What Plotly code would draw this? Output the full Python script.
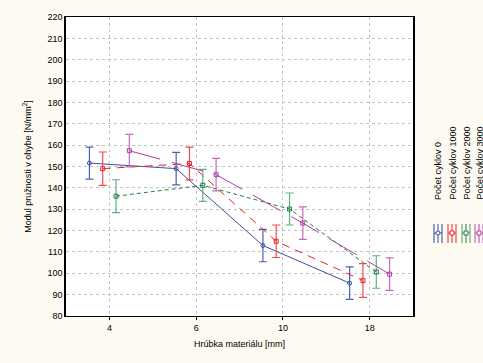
import plotly.graph_objects as go

categories = ["4", "6", "10", "18"]
series_names = ["Počet cyklov 0", "Počet cyklov 1000", "Počet cyklov 2000", "Počet cyklov 3000"]
mean_0 = [151.6, 149.0, 113.0, 95.4]
err_0 = [7.5, 7.6, 7.6, 7.6]
mean_1000 = [149.0, 151.4, 115.0, 96.6]
err_1000 = [7.8, 7.7, 7.6, 7.9]
mean_2000 = [136.1, 141.2, 130.1, 100.6]
err_2000 = [7.7, 7.5, 7.5, 7.6]
mean_3000 = [157.4, 146.2, 123.5, 99.6]
err_3000 = [7.6, 7.6, 7.6, 7.6]
y_ticks = list(range(80, 221, 10))

means = [mean_0, mean_1000, mean_2000, mean_3000]
errs = [err_0, err_1000, err_2000, err_3000]
line_colors = ["#3c50a0", "#e8202a", "#1f7f45", "#b03ca8"]
err_colors = ["#4a62b4", "#f04a4a", "#62b082", "#c56cbc"]
dashes = ["solid", "8px,6px", "4px,3px", "32px,12px"]
symbols = ["circle-open", "square-open", "square-open", "square-open"]
offsets = [-0.23, -0.077, 0.077, 0.23]

fig = go.Figure()
for i in range(4):
    xs = [k + offsets[i] for k in range(len(categories))]
    fig.add_trace(go.Scatter(
        x=xs, y=means[i], mode="lines+markers", name=series_names[i],
        line=dict(color=line_colors[i], width=1, dash=dashes[i]),
        marker=dict(symbol=symbols[i], size=4, color=line_colors[i], line=dict(width=1)),
        error_y=dict(type="data", array=errs[i], visible=True, color=err_colors[i],
                     thickness=1.2, width=4),
        showlegend=False,
    ))

W, H = 483, 363
L, R, T, B = 66, 413, 17, 316

def px(x):
    return (x - L) / (R - L)

def py(y):
    return (B - y) / (B - T)

shapes = []
annotations = []
centers = [438, 452, 466, 479]
for i, cx in enumerate(centers):
    annotations.append(dict(
        x=px(cx), y=py(201), xref="paper", yref="paper", text=series_names[i],
        textangle=-90, showarrow=False, xanchor="center", yanchor="bottom",
        font=dict(family="Liberation Sans, Arial", size=9, color="#000000"),
        borderpad=0,
    ))
    c = line_colors[i]
    for xx in (cx - 4, cx + 4):
        shapes.append(dict(type="line", xref="paper", yref="paper",
                           x0=px(xx), x1=px(xx), y0=py(224), y1=py(243),
                           line=dict(color=err_colors[i], width=1.2)))
    shapes.append(dict(type="line", xref="paper", yref="paper",
                       x0=px(cx - 4), x1=px(cx + 4), y0=py(233), y1=py(233),
                       line=dict(color=err_colors[i], width=1.2)))
    shapes.append(dict(type="line", xref="paper", yref="paper",
                       x0=px(cx), x1=px(cx), y0=py(224), y1=py(243),
                       line=dict(color=c, width=1)))
    shapes.append(dict(type="circle" if i == 0 else "rect", xref="paper", yref="paper",
                       x0=px(cx - 2), x1=px(cx + 2), y0=py(231), y1=py(235),
                       line=dict(color=c, width=1), fillcolor="white"))

fig.update_layout(
    width=W, height=H,
    margin=dict(l=L, r=W - R, t=T, b=H - B, pad=0, autoexpand=False),
    paper_bgcolor="#fdfbf1", plot_bgcolor="#ffffff",
    font=dict(family="Liberation Sans, Arial", size=9, color="#000000"),
    shapes=shapes, annotations=annotations,
    xaxis=dict(
        range=[-0.5, 3.5], tickmode="array", tickvals=list(range(len(categories))),
        ticktext=categories, showgrid=True, gridcolor="#c4c4c4", griddash="3px,3px",
        gridwidth=1, zeroline=False, showline=True, linecolor="#000000", linewidth=1,
        mirror=True, ticks="outside", ticklen=3, tickcolor="#000000", automargin=False,
        title=dict(text="Hrúbka materiálu [mm]", font=dict(size=9), standoff=8),
        tickfont=dict(size=9),
    ),
    yaxis=dict(
        range=[80, 220], tickmode="array", tickvals=y_ticks,
        showgrid=True, gridcolor="#c4c4c4", griddash="3px,3px", gridwidth=1,
        zeroline=False, showline=True, linecolor="#000000", linewidth=1.5,
        mirror=True, ticks="", tickfont=dict(size=9), automargin=False,
        title=dict(text="Modul pružnosti v ohybe [N/mm<sup>2</sup>]", font=dict(size=9), standoff=14),
    ),
)

fig.write_html("out.html", config={"displayModeBar": False},
               post_script="document.body.style.margin='0';document.body.style.overflow='hidden';")
